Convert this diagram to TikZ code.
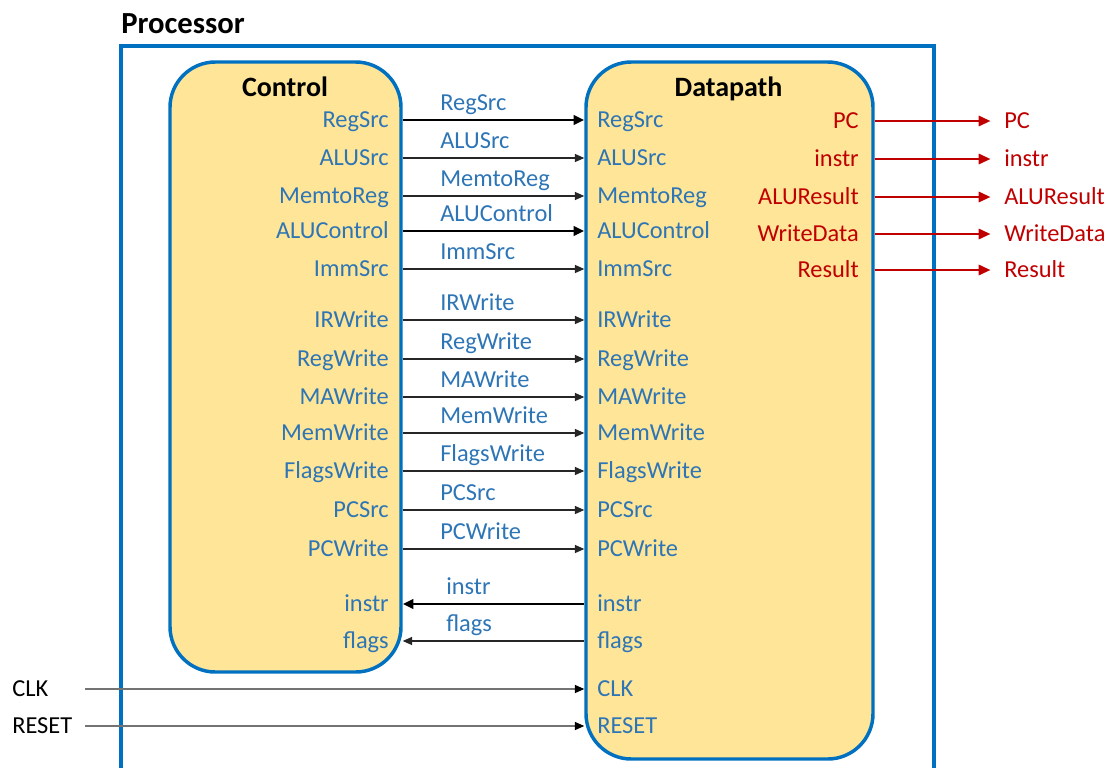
\documentclass[tikz,border=0pt]{standalone}
\usepackage{fontspec}
\setmainfont{Carlito}
\usetikzlibrary{arrows.meta}
\definecolor{ptext}{HTML}{2E75B6}
\definecolor{pborder}{HTML}{0070C0}
\definecolor{pfill}{HTML}{FEE597}
\definecolor{pred}{HTML}{C00000}
\tikzset{
  blockbox/.style={draw=pborder, fill=pfill, line width=2.6pt, rounded corners=34pt, inner sep=0pt},
  title/.style={font=\fontsize{21}{24}\selectfont\bfseries, text=black, inner sep=0pt},
  port/.style={font=\fontsize{18.3}{21}\selectfont, text=ptext, inner sep=0pt, text height=11.8pt, text depth=0pt},
  cport/.style={port, anchor=east},
  dport/.style={port, anchor=west},
  rport/.style={port, anchor=east, text=pred},
  oport/.style={port, anchor=west, text=pred},
  extlabel/.style={port, anchor=west, text=black},
  wirelabel/.style={port, anchor=west},
  thinwire/.style={draw=black!85, line width=0.9pt, -{Triangle[length=7pt,width=6pt]}},
  thickwire/.style={draw=black, line width=2.1pt, -{Triangle[length=8pt,width=7pt]}},
  redwire/.style={draw=pred, line width=2.2pt, -{Triangle[length=9pt,width=7.5pt]}},
  greywire/.style={draw=black!55, line width=0.9pt, -{Triangle[length=7pt,width=6pt,color=black]}}
}
\begin{document}
\begin{tikzpicture}[x=0.75pt,y=-0.75pt]
\useasboundingbox (0,0) rectangle (1109,768);
% Processor frame (open at the bottom)
\draw[pborder, line width=3pt] (121,768) -- (121,46) -- (934,46) -- (934,768);
\node[title, font=\fontsize{23}{26}\selectfont\bfseries, anchor=base west] (proc) at (121,33) {Processor};
% blocks
\node[blockbox, minimum width=231*0.75pt, minimum height=610*0.75pt] (ctrl) at (285.5,367) {};
\node[blockbox, minimum width=287*0.75pt, minimum height=697*0.75pt] (dp) at (729.5,410.5) {};
\node[title, anchor=base] (ctrlT) at (285,96) {Control};
\node[title, anchor=base] (dpT) at (728.5,96) {Datapath};
% control -> datapath ports
\foreach \n/\y/\s in {RegSrc/120/thickwire, ALUSrc/158/thinwire, MemtoReg/196/thinwire,
  ALUControl/231/thickwire, ImmSrc/269/thinwire, IRWrite/320/thinwire, RegWrite/359/thinwire,
  MAWrite/397/thinwire, MemWrite/433/thinwire, FlagsWrite/471/thinwire, PCSrc/510/thinwire,
  PCWrite/549/thinwire}{
  \node[cport] (c\n) at (389,\y) {\n};
  \node[dport] (d\n) at (597,\y) {\n};
  \node[wirelabel] (w\n) at (440,\y-17) {\n};
  \draw[\s] (ctrl.east |- c\n) -- (dp.west |- d\n);
}
% datapath -> control ports
\foreach \n/\y/\s in {instr/604/thickwire, flags/641/thinwire}{
  \node[cport] (c\n) at (389,\y) {\n};
  \node[dport] (d\n) at (597,\y) {\n};
  \node[wirelabel] (w\n) at (446,\y-17) {\n};
  \draw[\s] (dp.west |- d\n) -- (ctrl.east |- c\n);
}
% external inputs
\foreach \n/\y in {CLK/689, RESET/726}{
  \node[dport] (d\n) at (597,\y) {\n};
  \node[extlabel] (x\n) at (12,\y) {\n};
  \coordinate (s\n) at (85,\y);
  \draw[greywire] (s\n) -- (dp.west |- d\n);
}
% datapath outputs
\foreach \n/\y in {PC/121, instr/159, ALUResult/197, WriteData/234, Result/270}{
  \node[rport] (r\n) at (859,\y) {\n};
  \node[oport] (o\n) at (1004,\y) {\n};
  \draw[redwire, shorten >=10pt] (dp.east |- r\n) -- (o\n.west);
}
\end{tikzpicture}
\end{document}
